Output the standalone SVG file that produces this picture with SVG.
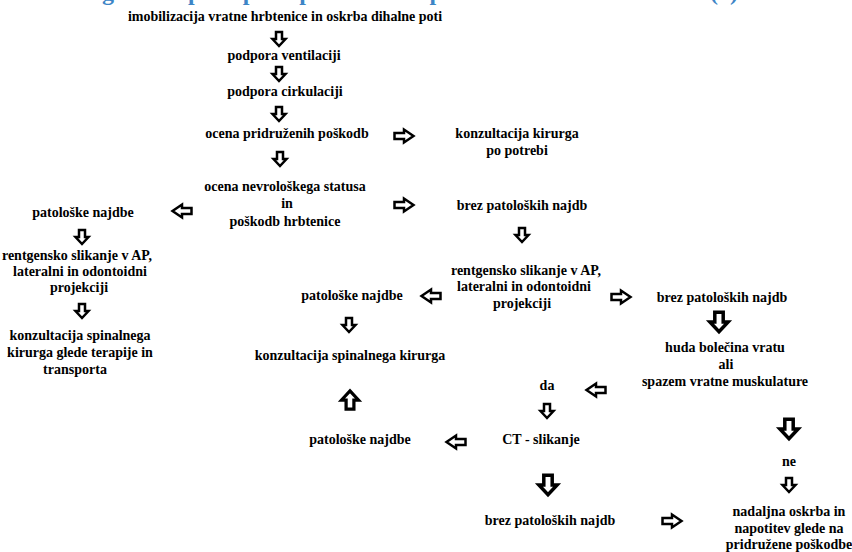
<svg xmlns="http://www.w3.org/2000/svg" width="852" height="552" viewBox="0 0 852 552">
<style>
  text { font-family: "Liberation Serif", "Times New Roman", serif; font-weight: bold; font-size: 14px; fill: #000; text-anchor: middle; }
  .title { font-size: 24px; fill: #3d85c6; text-anchor: start; }
  .arr { fill: #fff; stroke: #000; stroke-width: 2.5; stroke-linejoin: miter; }
</style>
<defs>
  <path id="ad" class="arr" d="M-3,-7 L3,-7 L3,0 L6.5,0 L0,7 L-6.5,0 L-3,0 Z"/>
  <path id="ar" class="arr" d="M-9.5,-3 L0,-3 L0,-6.5 L9.5,0 L0,6.5 L0,3 L-9.5,3 Z"/>
</defs>
<rect width="852" height="552" fill="#fff"/>
<text class="title" x="78" y="0">Algoritem postopkov pri sumu na poškodbo vratne hrbtenice (1)</text>

<g id="connectors">
  <use href="#ad" x="279" y="39"/>
  <use href="#ad" x="279" y="74"/>
  <use href="#ad" x="279" y="114"/>
  <use href="#ar" x="404" y="136"/>
  <use href="#ad" x="280" y="159"/>
  <use href="#ar" x="404" y="205"/>
  <use href="#ar" transform="translate(182,211) rotate(180)"/>
  <use href="#ad" x="82" y="237"/>
  <use href="#ad" x="82" y="311"/>
  <use href="#ad" x="522" y="235"/>
  <use href="#ar" transform="translate(431,296) rotate(180)"/>
  <use href="#ar" x="621" y="297"/>
  <use href="#ad" x="349" y="325"/>
  <use href="#ad" transform="translate(350,400) rotate(180) scale(1.3)"/>
  <use href="#ad" transform="translate(719,322) scale(1.4)"/>
  <use href="#ar" transform="translate(596,390) rotate(180)"/>
  <use href="#ad" x="547" y="411"/>
  <use href="#ar" transform="translate(456,442) rotate(180)"/>
  <use href="#ad" transform="translate(789,429) scale(1.4)"/>
  <use href="#ad" transform="translate(548,485) scale(1.4)"/>
  <use href="#ad" x="789" y="485"/>
  <use href="#ar" x="672" y="521"/>
</g>

<g id="n1"><text x="285" y="21">imobilizacija vratne hrbtenice in oskrba dihalne poti</text></g>
<g id="n2"><text x="284" y="60">podpora ventilaciji</text></g>
<g id="n3"><text x="285" y="96">podpora cirkulaciji</text></g>
<g id="n4"><text x="287" y="138">ocena pridruženih poškodb</text></g>
<g id="n5"><text x="517" y="138">konzultacija kirurga</text><text x="517" y="155">po potrebi</text></g>
<g id="n6"><text x="285" y="191">ocena nevrološkega statusa</text><text x="287" y="208">in</text><text x="285" y="226">poškodb hrbtenice</text></g>
<g id="n7"><text x="522" y="210">brez patoloških najdb</text></g>
<g id="n8"><text x="83" y="217">patološke najdbe</text></g>
<g id="n9"><text x="77" y="260">rentgensko slikanje v AP,</text><text x="80" y="276">lateralni in odontoidni</text><text x="79" y="292">projekciji</text></g>
<g id="n10"><text x="80" y="340">konzultacija spinalnega</text><text x="80" y="357">kirurga glede terapije in</text><text x="75" y="374">transporta</text></g>
<g id="n11"><text x="526" y="275">rentgensko slikanje v AP,</text><text x="524" y="291">lateralni in odontoidni</text><text x="522" y="308">projekciji</text></g>
<g id="n12"><text x="352" y="300">patološke najdbe</text></g>
<g id="n13"><text x="350" y="360">konzultacija spinalnega kirurga</text></g>
<g id="n14"><text x="722" y="302">brez patoloških najdb</text></g>
<g id="n15"><text x="725" y="352">huda bolečina vratu</text><text x="726" y="369">ali</text><text x="725" y="386">spazem vratne muskulature</text></g>
<g id="n16"><text x="547" y="390">da</text></g>
<g id="n17"><text x="541" y="444">CT - slikanje</text></g>
<g id="n18"><text x="360" y="444">patološke najdbe</text></g>
<g id="n19"><text x="550" y="525">brez patoloških najdb</text></g>
<g id="n20"><text x="789" y="466">ne</text></g>
<g id="n21"><text x="789" y="516">nadaljna oskrba in</text><text x="789" y="533">napotitev glede na</text><text x="789" y="549">pridružene poškodbe</text></g>
</svg>
